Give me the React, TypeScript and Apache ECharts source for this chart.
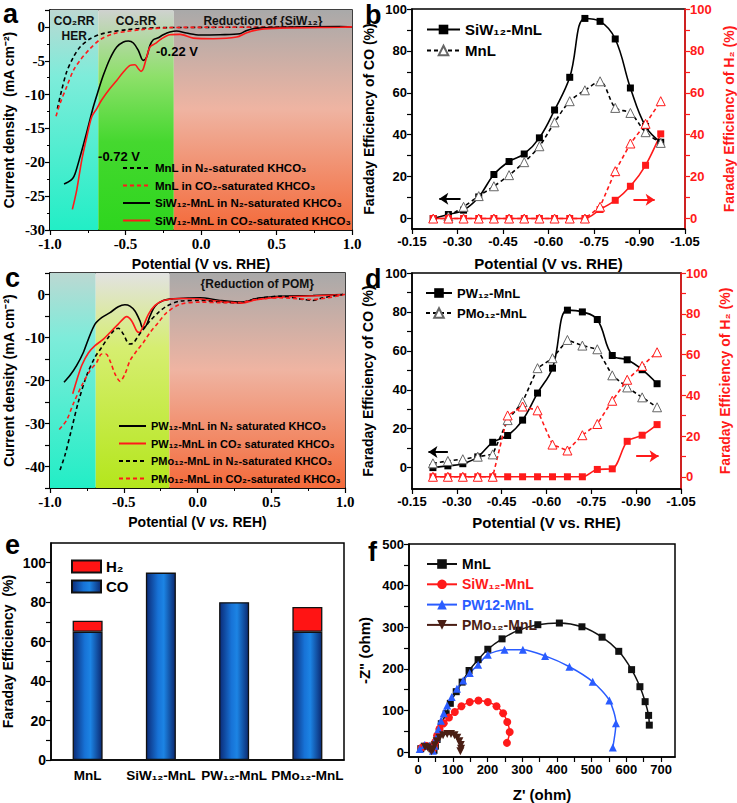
import React, { useEffect, useRef } from 'react';
import * as echarts from 'echarts';

const SANS = "'Liberation Sans', Arial, Helvetica, sans-serif";
const SERIF = "'Liberation Serif', 'Times New Roman', serif";
const RED = '#ff1a1a';
const BLUE = '#2a5cff';
const BROWN = '#4a1e14';

// ---------- Panel a : LSV, potential (V vs. RHE) / current density (mA cm-2)
const aMnLN2 = [[-0.951,-12.07],[-0.923,-9.37],[-0.89,-6.66],[-0.845,-4.45],[-0.801,-2.97],[-0.735,-1.75],[-0.669,-1.11],[-0.603,-0.76],[-0.492,-0.42],[-0.404,-0.22],[-0.294,-0.12],[-0.1,-0.08],[0.2,-0.05],[0.5,-0.03],[0.95,0]];
const aMnLCO2 = [[-0.96,-13.2],[-0.934,-11.33],[-0.89,-8.87],[-0.845,-6.42],[-0.801,-4.94],[-0.735,-3.22],[-0.669,-1.89],[-0.581,-1.01],[-0.492,-0.66],[-0.404,-0.42],[-0.228,-0.12],[0,-0.06],[0.5,-0.04],[1.0,-0.02]];
const aSiwN2 = [[-0.907,-23.2],[-0.878,-22.9],[-0.85,-22.4],[-0.834,-21.7],[-0.801,-19.2],[-0.757,-15.6],[-0.713,-11.8],[-0.68,-9.4],[-0.647,-7.15],[-0.603,-4.7],[-0.558,-2.97],[-0.514,-2.24],[-0.481,-2.09],[-0.448,-2.38],[-0.415,-3.47],[-0.393,-4.7],[-0.382,-4.94],[-0.36,-4.45],[-0.338,-2.73],[-0.316,-1.89],[-0.283,-1.6],[-0.25,-1.16],[-0.206,-0.76],[-0.162,-0.61],[-0.096,-0.9],[-0.007,-1.2],[0.126,-1.15],[0.258,-1.0],[0.303,-0.52],[0.369,-0.18],[0.523,-0.04],[0.92,0.05],[1.0,0]];
const aSiwCO2 = [[-0.852,-26.96],[-0.823,-24.1],[-0.79,-19.7],[-0.757,-16.3],[-0.724,-13.3],[-0.691,-12.1],[-0.658,-10.8],[-0.603,-9.1],[-0.558,-7.9],[-0.514,-6.66],[-0.47,-5.68],[-0.437,-5.58],[-0.415,-6.17],[-0.397,-6.56],[-0.382,-6.17],[-0.36,-4.45],[-0.338,-2.97],[-0.305,-2.48],[-0.261,-1.75],[-0.206,-1.16],[-0.139,-1.1],[-0.051,-1.65],[0.082,-1.74],[0.236,-1.5],[0.303,-0.86],[0.391,-0.37],[0.523,-0.18],[0.92,-0.04],[1.0,0]];

// ---------- Panel c : LSV
const cPwN2 = [[-0.905,-20.4],[-0.864,-18.8],[-0.819,-16.5],[-0.774,-13.5],[-0.74,-10.4],[-0.695,-6.9],[-0.65,-5.4],[-0.593,-4.2],[-0.537,-2.85],[-0.492,-2.4],[-0.458,-2.7],[-0.424,-3.85],[-0.39,-6.15],[-0.372,-7.7],[-0.349,-7.3],[-0.322,-5.0],[-0.288,-2.7],[-0.232,-1.4],[-0.164,-1.0],[-0.051,-0.8],[0.017,-0.77],[0.153,-1.38],[0.308,-1.77],[0.401,-0.93],[0.559,-0.4],[0.783,-0.25],[0.987,0]];
const cPwCO2 = [[-0.846,-23.1],[-0.819,-20.0],[-0.785,-16.5],[-0.74,-13.6],[-0.695,-11.9],[-0.638,-10.4],[-0.593,-8.85],[-0.537,-6.9],[-0.48,-5.15],[-0.446,-6.15],[-0.412,-8.5],[-0.394,-8.85],[-0.367,-7.3],[-0.333,-4.6],[-0.288,-2.54],[-0.232,-1.4],[-0.119,-0.93],[0,-1.0],[0.15,-1.6],[0.3,-2.0],[0.4,-1.2],[0.55,-0.6],[0.8,-0.3],[1.0,0]];
const cPmoN2 = [[-0.932,-40.8],[-0.898,-37.3],[-0.853,-31.2],[-0.808,-25.0],[-0.751,-18.8],[-0.695,-14.6],[-0.65,-12.3],[-0.605,-10.0],[-0.559,-8.1],[-0.537,-7.85],[-0.503,-9.2],[-0.462,-11.5],[-0.435,-11.3],[-0.401,-9.6],[-0.367,-8.1],[-0.322,-6.15],[-0.266,-4.2],[-0.209,-2.7],[-0.119,-1.54],[0.017,-1.38],[0.153,-1.77],[0.28,-1.9],[0.401,-0.93],[0.56,-0.4],[0.715,-1.15],[0.783,-1.38],[0.85,-0.77],[0.987,0]];
const cPmoCO2 = [[-0.937,-31.4],[-0.887,-29.2],[-0.842,-25.4],[-0.785,-21.2],[-0.729,-17.7],[-0.684,-15.8],[-0.65,-13.85],[-0.621,-13.85],[-0.589,-15.8],[-0.559,-18.5],[-0.525,-20.2],[-0.492,-18.5],[-0.458,-15.4],[-0.412,-13.1],[-0.367,-11.15],[-0.322,-8.85],[-0.266,-6.54],[-0.209,-4.2],[-0.119,-2.3],[0.017,-1.77],[0.153,-1.9],[0.28,-1.9],[0.401,-1.15],[0.56,-0.77],[0.783,-1.15],[0.987,-0.1]];

// ---------- Panels b & d : Faraday efficiency vs potential
const fePotentials = [-0.22,-0.27,-0.32,-0.37,-0.42,-0.47,-0.52,-0.57,-0.62,-0.67,-0.72,-0.77,-0.82,-0.87,-0.92,-0.97];
const bSiwCO = [0,1.9,4.0,10.3,21.0,27.2,30.8,38.5,51.8,67.4,95.5,94.1,85.7,62.3,44.0,36.4];
const bMnlCO = [null,1.0,5.6,10.7,15.4,20.7,26.9,34.5,45.9,56.0,61.2,65.5,52.8,50.4,41.2,36.1];
const bSiwH2 = [0,0,0,0,0,0,0,0,0,0,0,4.3,8.7,15.4,25.4,40.4];
const bMnlH2 = [0,0,0,0,0,0,0,0,0,0,0,5.6,22.6,35.8,45.2,56.0];
const dPwCO = [0,0.9,2.0,5.5,13.0,16.5,24.4,38.3,51.1,80.9,80.0,76.1,57.6,55.4,50.3,43.1];
const dPmoCO = [2.2,3.4,4.3,5.6,6.8,24.4,33.7,51.1,56.2,65.6,62.7,60.8,47.4,41.2,36.1,31.0];
const dPwH2 = [0,0,0,0,0,0,0,0,0,0,0,3.6,3.9,17.4,20.4,25.6];
const dPmoH2 = [0,0,0,0,0,30.1,34.5,32.6,15.8,12.9,20.4,25.9,37.3,47.6,54.4,61.1];

// ---------- Panel e : stacked FE bars
const eCategories = ['MnL', 'SiW₁₂-MnL', 'PW₁₂-MnL', 'PMo₁₂-MnL'];
const eCO = [65, 95, 80, 65];
const eH2 = [5.6, null, null, 12.6];

// ---------- Panel f : Nyquist plots (Z', -Z'')
const fMnL = [[8,8],[18,14],[30,14],[40,8],[46,4],[50,14],[55,30],[61,48],[67,68],[81,92],[93,117],[110,145],[127,168],[147,196],[173,222],[201,247],[242,272],[290,293],[345,306],[407,310],[472,301],[530,276],[578,242],[615,198],[639,157],[654,121],[664,88],[666,64.6]];
const fSiw = [[10,10],[22,15],[34,13],[42,6],[46,12],[50,25],[55,40],[62,56],[74,69],[89,83],[106,96],[125,110],[149,120],[174,124],[201,120],[226,110],[245,93],[257,72],[264,48],[256,22]];
const fPw = [[5,7],[19,17],[34,15],[43,3],[47,15],[53,35],[59,55],[66,75],[74,93],[84,112],[97,132],[112,152],[130,172],[149,190],[173,210],[201,234],[249,246],[302,246],[366,231],[436,205],[503,169],[551,124],[570,69],[561,11]];
const fPmo = [[20,12],[28,11],[35,6],[39,2],[43,6],[48,16],[54,26],[62,34],[72,40],[84,43],[95,43],[105,40],[113,34],[119,26],[123,17],[124,8],[122,2]];

// ---------- tick values
const feLabelTicks = [0, 20, 40, 60, 80, 100];
const feMinorTicks = [0, 10, 20, 30, 40, 50, 60, 70, 80, 90, 100];
const fXLabels = [0, 100, 200, 300, 400, 500, 600, 700];
const fXTicks = [0, 50, 100, 150, 200, 250, 300, 350, 400, 450, 500, 550, 600, 650, 700];
const fYLabels = [0, 100, 200, 300, 400, 500];
const fYTicks = [0, 50, 100, 150, 200, 250, 300, 350, 400, 450, 500];

const zip = (xs: number[], ys: (number | null)[]) =>
  xs.map((x, i) => (ys[i] == null ? null : [x, ys[i]])).filter((p) => p !== null);

const txt = (size: number, color = '#000', family = SANS) => ({
  fontFamily: family, fontWeight: 'bold' as const, fontSize: size, color,
});

const vgrad = (stops: [number, string][]) => ({
  type: 'linear', x: 0, y: 0, x2: 0, y2: 1,
  colorStops: stops.map(([offset, color]) => ({ offset, color })),
});

const gradCyan = vgrad([[0, '#bcd8d2'], [0.3, '#7eecda'], [1, '#22eec6']]);
const gradGreen = vgrad([[0, '#cfd2cf'], [0.3, '#8ee06a'], [0.6, '#45d82f'], [1, '#2ed61e']]);
const gradYellow = vgrad([[0, '#e2e2e2'], [0.35, '#d6ee70'], [1, '#b4e61c']]);
const gradOrange = vgrad([[0, '#a9a9a9'], [0.45, '#efb4a2'], [1, '#f46a3a']]);
const barBlue = {
  type: 'linear', x: 0, y: 0, x2: 1, y2: 0,
  colorStops: [
    { offset: 0, color: '#0b2c78' }, { offset: 0.4, color: '#1772d6' },
    { offset: 0.6, color: '#1c84e4' }, { offset: 1, color: '#0b2a72' },
  ],
};

const strip = (name: string) => name.split('|')[1];

const axisLine = (color = '#000') => ({ show: true, onZero: false, lineStyle: { color, width: 1.5 } });
const axisTick = (color = '#000', extra = {}) => ({ show: true, inside: false, length: 5, lineStyle: { color, width: 1.2 }, ...extra });
const minorTick = { show: true, splitNumber: 2, length: 3, lineStyle: { color: '#000', width: 1 } };

const potentialAxis = (gridIndex: number, name: string, nameGap: number, rich?: any) => ({
  gridIndex, type: 'value', min: -1, max: 1, interval: 0.5,
  axisLine: axisLine(), axisTick: axisTick(), minorTick, splitLine: { show: false },
  axisLabel: { ...txt(15, '#000', SERIF), margin: 6, formatter: (v: number) => v.toFixed(1) },
  name, nameLocation: 'middle', nameGap, nameTextStyle: { ...txt(14), rich },
});

const feXAxis = (gridIndex: number, nameGap: number) => ({
  gridIndex, type: 'value', inverse: true, min: -1.05, max: -0.15, interval: 0.15,
  axisLine: axisLine(), axisTick: axisTick(), splitLine: { show: false },
  axisLabel: { ...txt(13), margin: 6, formatter: (v: number) => v.toFixed(2) },
  name: 'Potential (V vs. RHE)', nameLocation: 'middle', nameGap, nameTextStyle: txt(15),
});

const feYAxis = (gridIndex: number, min: number, right: boolean, name: string, nameGap: number) => {
  const color = right ? RED : '#000';
  return {
    gridIndex, type: 'value', min, max: 100, position: right ? 'right' : 'left',
    axisLine: axisLine(color),
    axisTick: axisTick(color, { customValues: feMinorTicks }),
    splitLine: { show: false },
    axisLabel: { ...txt(13, color), margin: 5, customValues: feLabelTicks },
    name, nameLocation: 'middle', nameGap, nameTextStyle: txt(14, color),
  };
};

const lineS = (name: string, xi: number, yi: number, data: any[], color: string, dashed: boolean, extra: any = {}) => ({
  name, type: 'line', xAxisIndex: xi, yAxisIndex: yi, data,
  symbol: 'none', smooth: 0.3,
  lineStyle: { color, width: 1.6, type: dashed ? [4, 3] : 'solid' },
  itemStyle: { color },
  ...extra,
});

const feSeries = (
  name: string, xi: number, yi: number, ys: (number | null)[], color: string,
  filled: boolean, dashed: boolean, smooth: number | boolean, extra: any = {},
) => ({
  name, type: 'line', xAxisIndex: xi, yAxisIndex: yi, data: zip(fePotentials, ys),
  symbol: filled ? 'rect' : 'triangle', symbolSize: filled ? 7 : 9, smooth,
  lineStyle: { color, width: 1.6, type: dashed ? [4, 3] : 'solid' },
  itemStyle: filled
    ? { color }
    : { color: '#ffffff', borderColor: color === RED ? RED : '#666', borderWidth: 1 },
  ...extra,
});

const arrow = (color: string, from: number[], to: number[]) => ({
  silent: true, symbol: ['none', 'arrow'], symbolSize: 9,
  lineStyle: { color, width: 2, type: 'solid' }, label: { show: false },
  data: [[{ coord: from }, { coord: to }]],
});

const aNames = ['a|MnL in N₂-saturated KHCO₃', 'a|MnL in CO₂-saturated KHCO₃', 'a|SiW₁₂-MnL in N₂-saturated KHCO₃', 'a|SiW₁₂-MnL in CO₂-saturated KHCO₃'];
const cNames = ['c|PW₁₂-MnL in N₂ saturated KHCO₃', 'c|PW₁₂-MnL in CO₂ saturated KHCO₃', 'c|PMo₁₂-MnL in N₂-saturated KHCO₃', 'c|PMo₁₂-MnL in CO₂-saturated KHCO₃'];

const regionLabel = { show: true, position: 'insideTop', distance: 3, ...txt(12, '#111'), lineHeight: 15 };

const option: any = {
  animation: false,
  backgroundColor: '#ffffff',
  grid: [
    { left: 50, top: 10, width: 302, height: 220 },
    { left: 412, top: 9, width: 273, height: 220 },
    { left: 50, top: 273, width: 295, height: 215 },
    { left: 412, top: 273, width: 269, height: 216 },
    { left: 50, top: 543, width: 294, height: 217 },
    { left: 409, top: 544, width: 266, height: 217 },
  ].map((g) => ({ ...g, show: true, borderColor: '#000', borderWidth: 1.5, backgroundColor: 'transparent' })),
  xAxis: [
    potentialAxis(0, 'Potential (V vs. RHE)', 27),
    feXAxis(1, 27),
    potentialAxis(2, 'Potential (V {i|vs.} REH)', 27, { i: { ...txt(14), fontStyle: 'italic' } }),
    feXAxis(3, 26),
    {
      gridIndex: 4, type: 'category', data: eCategories,
      axisLine: axisLine(), axisTick: { show: false }, splitLine: { show: false },
      axisLabel: { ...txt(13.5), margin: 8, interval: 0 },
    },
    {
      gridIndex: 5, type: 'value', min: -26, max: 740,
      axisLine: axisLine(), axisTick: axisTick('#000', { customValues: fXTicks }), splitLine: { show: false },
      axisLabel: { ...txt(13), margin: 6, customValues: fXLabels },
      name: "Z' (ohm)", nameLocation: 'middle', nameGap: 30, nameTextStyle: txt(15),
    },
  ],
  yAxis: [
    {
      gridIndex: 0, type: 'value', min: -30, max: 2.5, interval: 5,
      axisLine: axisLine(), axisTick: axisTick(), minorTick, splitLine: { show: false },
      axisLabel: { ...txt(15, '#000', SERIF), margin: 5, showMaxLabel: false },
      name: 'Current density  (mA cm⁻²)', nameLocation: 'middle', nameGap: 34, nameTextStyle: txt(14),
    },
    feYAxis(1, -5, false, 'Faraday Efficiency of CO (%)', 36),
    feYAxis(1, -5, true, 'Faraday Efficiency of H₂ (%)', 37),
    {
      gridIndex: 2, type: 'value', min: -45, max: 5, interval: 5,
      axisLine: axisLine(), axisTick: axisTick(), splitLine: { show: false },
      axisLabel: { ...txt(15, '#000', SERIF), margin: 5, formatter: (v: number) => (v % 10 === 0 ? String(v) : '') },
      name: 'Current density (mA cm⁻²)', nameLocation: 'middle', nameGap: 34, nameTextStyle: txt(14),
    },
    feYAxis(3, -11, false, 'Faraday Efficiency of CO (%)', 37),
    feYAxis(3, -6, true, 'Faraday Efficiency of H₂ (%)', 37),
    {
      gridIndex: 4, type: 'value', min: 0, max: 110,
      axisLine: axisLine(), axisTick: axisTick('#000', { customValues: feMinorTicks }), splitLine: { show: false },
      axisLabel: { ...txt(14), margin: 5, customValues: feLabelTicks },
      name: 'Faraday Efficiency  (%)', nameLocation: 'middle', nameGap: 36, nameTextStyle: txt(14),
    },
    {
      gridIndex: 5, type: 'value', min: -12, max: 500,
      axisLine: axisLine(), axisTick: axisTick('#000', { customValues: fYTicks }), splitLine: { show: false },
      axisLabel: { ...txt(13), margin: 5, customValues: fYLabels },
      name: '-Z" (ohm)', nameLocation: 'middle', nameGap: 37, nameTextStyle: txt(15),
    },
  ],
  legend: [
    {
      data: aNames, formatter: strip, orient: 'vertical', left: 117, top: 156,
      itemWidth: 27, itemHeight: 14, itemGap: 3.5, textStyle: { ...txt(11.5), lineHeight: 14 },
      itemStyle: { opacity: 0 }, selectedMode: false,
    },
    {
      data: ['b|SiW₁₂-MnL', 'b|MnL'], formatter: strip, orient: 'vertical', left: 421, top: 17,
      itemWidth: 33, itemHeight: 12, itemGap: 6, textStyle: { ...txt(15), lineHeight: 14 }, selectedMode: false,
    },
    {
      data: cNames, formatter: strip, orient: 'vertical', left: 113, top: 414,
      itemWidth: 27, itemHeight: 14, itemGap: 3.5, textStyle: { ...txt(11), lineHeight: 14 },
      itemStyle: { opacity: 0 }, selectedMode: false,
    },
    {
      data: ['d|PW₁₂-MnL', 'd|PMo₁₂-MnL'], formatter: strip, orient: 'vertical', left: 420, top: 281,
      itemWidth: 26, itemHeight: 12, itemGap: 6, textStyle: { ...txt(13), lineHeight: 14 }, selectedMode: false,
    },
    {
      data: [{ name: 'e|H₂', icon: 'rect' }, { name: 'e|CO', icon: 'rect' }], formatter: strip,
      orient: 'vertical', left: 66, top: 554, itemWidth: 29, itemHeight: 12, itemGap: 5,
      textStyle: { ...txt(15), lineHeight: 14 }, selectedMode: false,
    },
    {
      data: [
        { name: 'f|MnL', textStyle: { color: '#000' } },
        { name: 'f|SiW₁₂-MnL', textStyle: { color: RED } },
        { name: 'f|PW12-MnL', textStyle: { color: BLUE } },
        { name: 'f|PMo₁₂-MnL', textStyle: { color: BROWN } },
      ],
      formatter: strip, orient: 'vertical', left: 421, top: 552,
      itemWidth: 30, itemHeight: 12, itemGap: 6.3, textStyle: { ...txt(14), lineHeight: 14 }, selectedMode: false,
    },
  ],
  graphic: [
    ['a', 3, 0], ['b', 365, 1], ['c', 5, 264], ['d', 365, 265], ['e', 5, 531], ['f', 368, 538],
  ].map(([t, x, y]) => ({
    type: 'text', left: x, top: y, z: 100,
    style: { text: t, font: `bold 27px ${SANS}`, fill: '#000' },
  })),
  series: [
    // ---- a
    lineS(aNames[0], 0, 0, aMnLN2, '#000', true, {
      markArea: {
        silent: true, label: regionLabel,
        data: [
          [{ name: 'CO₂RR\nHER', xAxis: -1, itemStyle: { color: gradCyan } }, { xAxis: -0.68 }],
          [{ name: 'CO₂RR', xAxis: -0.68, itemStyle: { color: gradGreen } }, { xAxis: -0.18 }],
          [{ name: 'Reduction of {SiW₁₂}', xAxis: -0.18, itemStyle: { color: gradOrange } }, { xAxis: 1 }],
        ],
      },
    }),
    lineS(aNames[1], 0, 0, aMnLCO2, RED, true),
    lineS(aNames[2], 0, 0, aSiwN2, '#000', false, {
      markPoint: {
        symbol: 'rect', symbolSize: 1, itemStyle: { color: 'rgba(0,0,0,0)' },
        label: { show: true, position: 'inside', formatter: (p: any) => p.name, ...txt(13) },
        data: [
          { name: '-0.22 V', coord: [-0.159, -3.6] },
          { name: '-0.72 V', coord: [-0.543, -19.1] },
        ],
      },
    }),
    lineS(aNames[3], 0, 0, aSiwCO2, RED, false),
    // ---- b
    feSeries('b|SiW₁₂-MnL', 1, 1, bSiwCO, '#000', true, false, 0.4, {
      markLine: arrow('#000', [-0.31, 9.4], [-0.24, 9.4]),
    }),
    feSeries('b|MnL', 1, 1, bMnlCO, '#000', false, true, 0.3),
    feSeries('b|SiW₁₂-MnL H₂', 1, 2, bSiwH2, RED, true, false, 0.3, {
      markLine: arrow(RED, [-0.88, 9], [-0.95, 9]),
    }),
    feSeries('b|MnL H₂', 1, 2, bMnlH2, RED, false, true, false),
    // ---- c
    lineS(cNames[0], 2, 3, cPwN2, '#000', false, {
      markArea: {
        silent: true, label: regionLabel,
        data: [
          [{ name: '', xAxis: -1, itemStyle: { color: gradCyan } }, { xAxis: -0.69 }],
          [{ name: '', xAxis: -0.69, itemStyle: { color: gradYellow } }, { xAxis: -0.19 }],
          [{ name: '{Reduction of POM}', xAxis: -0.19, itemStyle: { color: gradOrange } }, { xAxis: 1 }],
        ],
      },
    }),
    lineS(cNames[1], 2, 3, cPwCO2, RED, false),
    lineS(cNames[2], 2, 3, cPmoN2, '#000', true),
    lineS(cNames[3], 2, 3, cPmoCO2, RED, true),
    // ---- d
    feSeries('d|PW₁₂-MnL', 3, 4, dPwCO, '#000', true, false, 0.4, {
      markLine: arrow('#000', [-0.27, 8], [-0.205, 8]),
    }),
    feSeries('d|PMo₁₂-MnL', 3, 4, dPmoCO, '#000', false, true, false),
    feSeries('d|PW₁₂-MnL H₂', 3, 5, dPwH2, RED, true, false, 0.3, {
      markLine: arrow(RED, [-0.9, 10.1], [-0.975, 10.1]),
    }),
    feSeries('d|PMo₁₂-MnL H₂', 3, 5, dPmoH2, RED, false, true, false),
    // ---- e
    {
      name: 'e|CO', type: 'bar', xAxisIndex: 4, yAxisIndex: 6, stack: 'fe', data: eCO, barWidth: 30,
      itemStyle: { color: barBlue, borderColor: '#111', borderWidth: 1.3 },
    },
    {
      name: 'e|H₂', type: 'bar', xAxisIndex: 4, yAxisIndex: 6, stack: 'fe', data: eH2, barWidth: 30,
      itemStyle: { color: '#ff1414', borderColor: '#111', borderWidth: 1.3 },
    },
    // ---- f
    ...[
      ['f|MnL', fMnL, '#111', 'rect', 7],
      ['f|SiW₁₂-MnL', fSiw, RED, 'circle', 8],
      ['f|PW12-MnL', fPw, BLUE, 'triangle', 8],
      ['f|PMo₁₂-MnL', fPmo, BROWN, 'triangle', 8],
    ].map(([name, data, color, symbol, size]) => ({
      name, type: 'line', xAxisIndex: 5, yAxisIndex: 7, data, symbol, symbolSize: size,
      symbolRotate: name === 'f|PMo₁₂-MnL' ? 180 : 0, smooth: 0.25,
      lineStyle: { color, width: 1.5 }, itemStyle: { color },
    })),
  ],
};

export default function App() {
  const ref = useRef<HTMLDivElement>(null);
  useEffect(() => {
    const chart = echarts.init(ref.current!, null, { renderer: 'svg' });
    chart.setOption(option);
    return () => chart.dispose();
  }, []);
  return <div ref={ref} style={{ position: 'absolute', left: 0, top: 0, width: 737, height: 803 }} />;
}
